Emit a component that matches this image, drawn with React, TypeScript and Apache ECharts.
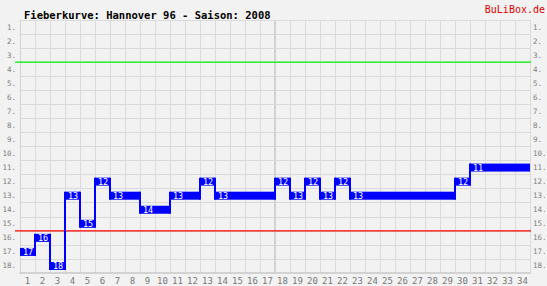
import React, { useEffect, useRef } from "react";
import * as echarts from "echarts";

const matchdays = Array.from({ length: 34 }, (_, i) => String(i + 1));
const rankLabels = Array.from({ length: 18 }, (_, i) => `${i + 1}.`);
const ranks = [17, 16, 18, 13, 15, 12, 13, 13, 14, 14, 13, 13, 12, 13, 13, 13, 13, 12, 13, 12, 13, 12, 13, 13, 13, 13, 13, 13, 13, 12, 11, 11, 11, 11];
const titleText = "Fieberkurve: Hannover 96 - Saison: 2008";
const brandText = "BuLiBox.de";
const greenAfterRank = 3;
const redAfterRank = 15;
const halfSeasonAfter = 17;

const MONO = "'DejaVu Sans Mono', 'Liberation Mono', monospace";

export default function App() {
  const ref = useRef<HTMLDivElement>(null);
  useEffect(() => {
    if (!ref.current) return;
    const chart = echarts.init(ref.current, null, { renderer: "svg" });
    const barData = ranks.map((r, i) => {
      const prev = i > 0 ? ranks[i - 1] : -1;
      return [i, r - 1, prev > 0 ? prev - 1 : -1, prev !== r ? 1 : 0, r];
    });
    chart.setOption({
      animation: false,
      backgroundColor: "#f2f2f2",
      title: {
        text: titleText,
        left: 19,
        top: 4,
        textStyle: { fontFamily: MONO, fontSize: 10.5, fontWeight: "bold", color: "#000" },
      },
      graphic: [
        {
          type: "text",
          right: 2,
          top: 4,
          style: { text: brandText, fill: "#e00000", font: `10px ${MONO}` },
        },
      ],
      grid: { left: 20, right: 17, top: 20, bottom: 13, containLabel: false, outerBoundsMode: "none" },
      xAxis: {
        type: "category",
        data: matchdays,
        boundaryGap: true,
        axisLine: { show: true, lineStyle: { color: "#d2d2d2", width: 2 } },
        axisTick: { show: false },
        axisLabel: { color: "#777", fontFamily: MONO, fontSize: 9, margin: 3, interval: 0 },
        splitLine: { show: true, interval: 0, lineStyle: { color: "#dadada", width: 1 } },
      },
      yAxis: [
        {
          type: "category",
          data: rankLabels,
          inverse: true,
          position: "left",
          axisLine: { show: true, lineStyle: { color: "#d2d2d2", width: 1 } },
          axisTick: { show: false },
          axisLabel: { color: "#808080", fontFamily: MONO, fontSize: 7.5, margin: 4, interval: 0, padding: [0, 0, 5, 0] },
          splitLine: { show: true, interval: 0, lineStyle: { color: "#dadada", width: 1 } },
        },
        {
          type: "category",
          data: rankLabels,
          inverse: true,
          position: "right",
          axisLine: { show: false },
          axisTick: { show: false },
          axisLabel: { color: "#808080", fontFamily: MONO, fontSize: 7.5, margin: 3, interval: 0, padding: [0, 0, 5, 0] },
          splitLine: { show: false },
        },
      ],
      series: [
        {
          type: "custom",
          name: "decor",
          data: [[0, 0]],
          z: 1,
          renderItem: (params: any, api: any) => {
            const cs = params.coordSys;
            const bandH = api.size([0, 1])[1];
            const bandW = api.size([1, 0])[0];
            const yG = api.coord([0, greenAfterRank - 1])[1] + bandH / 2;
            const yR = api.coord([0, redAfterRank - 1])[1] + bandH / 2;
            const xH = api.coord([halfSeasonAfter - 1, 0])[0] + bandW / 2;
            return {
              type: "group",
              children: [
                {
                  type: "line",
                  shape: { x1: xH, y1: cs.y, x2: xH, y2: cs.y + cs.height },
                  style: { stroke: "#d2d2d2", lineWidth: 2 },
                },
                {
                  type: "line",
                  shape: { x1: cs.x - 5, y1: yG, x2: cs.x + cs.width + 1, y2: yG },
                  style: { stroke: "#00ee00", lineWidth: 1.3 },
                },
                {
                  type: "line",
                  shape: { x1: cs.x - 5, y1: yR, x2: cs.x + cs.width + 1, y2: yR },
                  style: { stroke: "#ff0000", lineWidth: 1.3 },
                },
              ],
            };
          },
        },
        {
          type: "custom",
          name: "Platz",
          data: barData,
          encode: { x: 0, y: 1 },
          z: 3,
          renderItem: (params: any, api: any) => {
            const idx = api.value(0);
            const r = api.value(1);
            const prev = api.value(2);
            const show = api.value(3);
            const c = api.coord([idx, r]);
            const w = api.size([1, 0])[0];
            const h = 8;
            const x0 = c[0] - w / 2;
            const children: any[] = [
              {
                type: "rect",
                shape: { x: x0, y: c[1] - h / 2, width: w, height: h },
                style: { fill: "#0000ff" },
              },
            ];
            if (prev >= 0 && prev !== r) {
              const p = api.coord([idx, prev]);
              const top = Math.min(p[1], c[1]) - h / 2;
              const bot = Math.max(p[1], c[1]) + h / 2;
              children.push({
                type: "rect",
                shape: { x: x0 - 1, y: top, width: 2, height: bot - top },
                style: { fill: "#0000ff" },
              });
            }
            if (show) {
              children.push({
                type: "text",
                x: x0 + 3,
                y: c[1] + 0.5,
                style: {
                  text: String(api.value(4)),
                  fill: "#ffffff",
                  font: `8.5px ${MONO}`,
                  verticalAlign: "middle",
                  align: "left",
                },
              });
            }
            return { type: "group", children };
          },
        },
      ],
    });
    return () => chart.dispose();
  }, []);
  return (
    <div
      ref={ref}
      style={{ position: "fixed", left: 0, top: 0, width: 547, height: 286 }}
    />
  );
}
